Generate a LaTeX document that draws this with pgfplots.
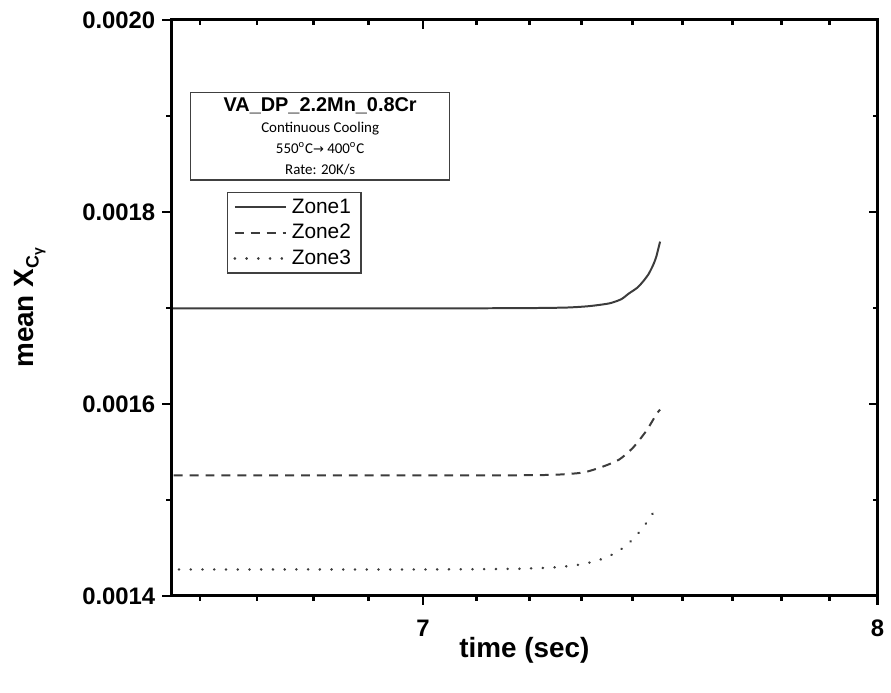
\documentclass[border=0pt]{standalone}
\usepackage{pgfplots}
\pgfplotsset{compat=1.18}
\usepackage{fontspec}
\setmainfont{Liberation Sans}
\newfontfamily\calibri{Carlito}
\newfontfamily\dejavu{DejaVu Sans}
\definecolor{curve}{HTML}{3C3C3C}
\begin{document}
\begin{tikzpicture}
\begin{axis}[
  name=main,
  scale only axis, width=355pt, height=289.5pt,
  xmode=log, xmin=6.5, xmax=8, ymin=0.0014, ymax=0.0020,
  xtick={7,8}, xticklabels={7,8},
  minor xtick={6.5556,6.6667,6.7778,6.8889,7.1111,7.2222,7.3333,7.4444,7.5556,7.6667,7.7778,7.8889},
  ytick={0.0014,0.0016,0.0018,0.0020},
  minor ytick={0.0015,0.0017,0.0019},
  scaled y ticks=false,
  yticklabel style={/pgf/number format/fixed, /pgf/number format/fixed zerofill, /pgf/number format/precision=4, /pgf/number format/assume math mode=true},
  xticklabel style={/pgf/number format/assume math mode=true, yshift=-4pt},
  ticklabel style={font=\fontsize{12}{14}\selectfont\bfseries},
  tick align=outside, xtick pos=left, ytick pos=left,
  major tick length=4.5pt, minor tick length=2.5pt,
  axis line style={line width=1.5pt},
  every tick/.style={black, line width=1.3pt},
  xlabel={time (sec)},
  ylabel={\textbf{mean X}\raisebox{-0.35ex}{\fontsize{9}{9}\selectfont C\raisebox{-0.4ex}{\fontsize{7}{7}\selectfont γ}}},
  label style={font=\fontsize{14}{16}\selectfont\bfseries},
  xlabel style={at={(axis description cs:0.5,0)}, anchor=center, yshift=-27.5pt},
  ylabel style={at={(axis description cs:0,0.5)}, anchor=center, yshift=71pt},
  legend style={at={(rel axis cs:0.0789,0.701)}, anchor=north west, draw=black!75, line width=0.6pt,
    font=\fontsize{10.5}{12.5}\selectfont, inner xsep=3pt, inner ysep=1pt, cells={anchor=west}},
  legend image code/.code={\draw[#1] (0pt,0pt) -- (26pt,0pt);},
]
\addplot[curve, line width=1pt, smooth, tension=0.4] coordinates {
(6.5,0.0016995) (7.0,0.0016995) (7.2,0.0016997) (7.3,0.0017003) (7.35,0.0017018)
(7.394,0.0017047) (7.42,0.0017090) (7.437,0.0017150) (7.455,0.0017210) (7.468,0.0017275)
(7.48,0.0017350) (7.490,0.0017440) (7.497,0.0017530) (7.505,0.0017690)};
\addlegendentry{Zone1}
\addplot[curve, line width=1pt, smooth, tension=0.4, dash pattern=on 4.5pt off 3.5pt] coordinates {
(6.505,0.0015254) (7.0,0.0015254) (7.2,0.0015256) (7.28,0.0015262) (7.338,0.0015285)
(7.381,0.0015347) (7.416,0.0015420) (7.446,0.0015544) (7.475,0.0015720) (7.498,0.0015896) (7.505,0.0015940)};
\addlegendentry{Zone2}
\addplot[curve, line width=1.3pt, smooth, tension=0.4, line cap=round, dash pattern=on 0.1pt off 5.8pt] coordinates {
(6.515,0.0014275) (7.0,0.0014275) (7.2,0.0014282) (7.28,0.0014298) (7.33,0.0014325)
(7.37,0.0014370) (7.40,0.0014430) (7.43,0.0014520) (7.455,0.0014640) (7.475,0.0014760)
(7.49,0.0014860) (7.505,0.0014930)};
\addlegendentry{Zone3}
\node[draw=black!75, line width=0.6pt, fill=white, align=center, minimum width=130pt, minimum height=44pt, inner sep=1pt,
  font=\calibri\fontsize{7.5}{10.5}\selectfont] at (rel axis cs:0.211,0.798)
  {{\rmfamily\bfseries\fontsize{10}{10.5}\selectfont VA\_DP\_2.2Mn\_0.8Cr}\\
   Continuous Cooling\\
   550\textsuperscript{o}C{\dejavu\fontsize{6.5}{10.5}\selectfont →} 400\textsuperscript{o}C\\
   Rate: 20K/s};
\end{axis}
\begin{axis}[
  scale only axis, width=355pt, height=289.5pt,
  xmode=log, xmin=6.5, xmax=8, ymin=0.0014, ymax=0.0020,
  xtick={7,8}, xticklabels={},
  minor xtick={6.5556,6.6667,6.7778,6.8889,7.1111,7.2222,7.3333,7.4444,7.5556,7.6667,7.7778,7.8889},
  ytick={0.0014,0.0016,0.0018,0.0020}, yticklabels={},
  scaled y ticks=false, scaled x ticks=false,
  minor ytick={0.0015,0.0017,0.0019},
  tick align=inside, xtick pos=right, ytick pos=right,
  major tick length=4.5pt, minor tick length=2.5pt,
  axis line style={line width=1.5pt},
  every tick/.style={black, line width=1.3pt},
]
\end{axis}
\path ([shift={(-86pt,-48.5pt)}]main.south west) rectangle ([shift={(4.5pt,10pt)}]main.north east);
\end{tikzpicture}
\end{document}
